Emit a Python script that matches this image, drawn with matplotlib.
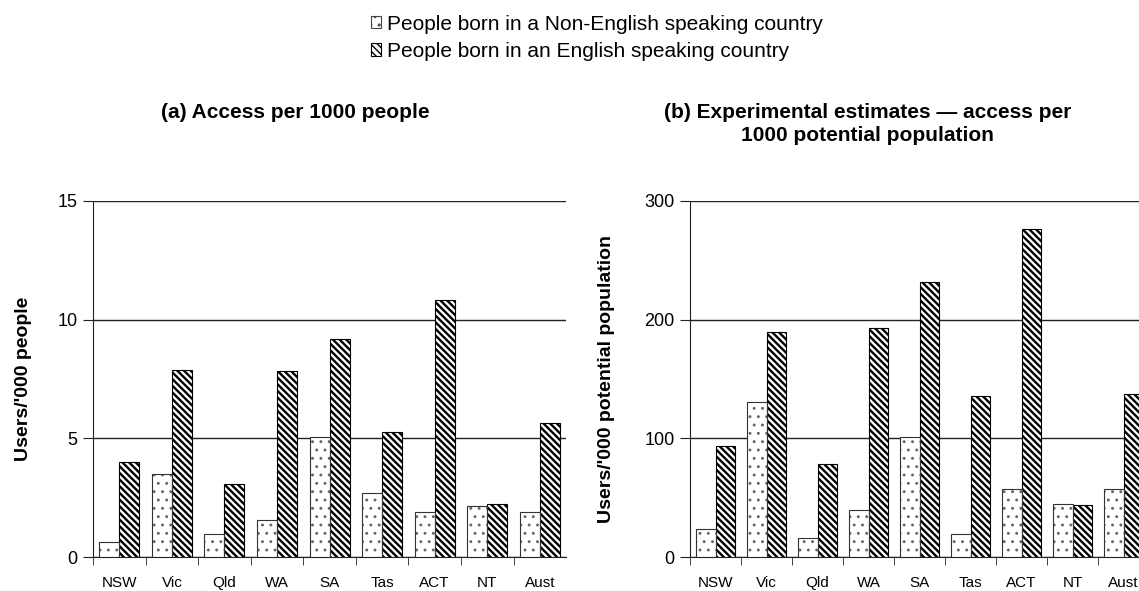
import numpy as np
import matplotlib
matplotlib.use("Agg")
import matplotlib.pyplot as plt
from matplotlib.patches import Patch

plt.rcParams["font.family"] = ["Liberation Sans", "DejaVu Sans"]

states = ["NSW", "Vic", "Qld", "WA", "SA", "Tas", "ACT", "NT", "Aust"]

# (a) access per 1000 people
a_non_english = [0.62, 3.48, 0.96, 1.55, 5.06, 2.68, 1.88, 2.14, 1.88]
a_english = [3.99, 7.87, 3.06, 7.83, 9.17, 5.25, 10.82, 2.22, 5.63]

# (b) access per 1000 potential population
b_non_english = [23.9, 130.3, 16.3, 40.0, 100.8, 19.7, 57.7, 45.0, 56.9]
b_english = [93.2, 189.4, 78.0, 192.8, 231.6, 135.4, 276.1, 44.2, 137.1]

label_ne = "People born in a Non-English speaking country"
label_en = "People born in an English speaking country"

DOT_COLOR = "#666666"
DOTS = ".."
STRIPES = "\\\\\\\\\\"


def set_hlw(artists, lw):
    for a in artists:
        if hasattr(a, "set_hatch_linewidth"):
            a.set_hatch_linewidth(lw)


def draw_panel(ax, ne, en, ymax, ystep, ylabel, label_x):
    x = np.arange(len(states))
    w = 0.38
    # dotted bars: grey dots, black outline drawn on top
    with plt.rc_context({"hatch.linewidth": 0.9}):
        dots = ax.bar(x - w / 2, ne, w, color="white", edgecolor=DOT_COLOR,
                      hatch=DOTS, linewidth=0, zorder=3)
    set_hlw(dots, 0.9)
    ax.bar(x - w / 2, ne, w, fill=False, edgecolor="#333333", linewidth=0.8, zorder=4)
    with plt.rc_context({"hatch.linewidth": 1.7}):
        stripes = ax.bar(x + w / 2, en, w, color="white", edgecolor="black",
                         hatch=STRIPES, linewidth=0.8, zorder=3)
    set_hlw(stripes, 1.7)

    ax.set_xlim(-0.5, len(states) - 0.5)
    ax.set_ylim(0, ymax)
    ax.set_yticks(np.arange(0, ymax + 1e-9, ystep))
    ax.yaxis.grid(True, color="#222222", linewidth=1.0, zorder=0)
    ax.set_axisbelow(True)

    ax.set_xticks(x)
    ax.set_xticklabels(states, fontsize=11)
    ax.set_xticks(np.arange(-0.5, len(states) - 0.5, 1.0), minor=True)
    ax.tick_params(axis="x", which="major", length=0, pad=14)
    ax.tick_params(axis="x", which="minor", length=6, direction="out", color="#222222")
    ax.tick_params(axis="y", length=7, direction="out", labelsize=13, color="#222222", pad=4)

    for s in ["top", "right"]:
        ax.spines[s].set_visible(False)
    ax.spines["left"].set_color("#222222")
    ax.spines["bottom"].set_color("#222222")

    ax.set_ylabel(ylabel, fontsize=14, fontweight="bold")
    ax.yaxis.set_label_coords(label_x, 0.5)


fig = plt.figure(figsize=(11.39, 5.91), dpi=100)
ax1 = fig.add_axes([0.0817, 0.0575, 0.4153, 0.6024])
ax2 = fig.add_axes([0.6058, 0.0575, 0.4030, 0.6024])

draw_panel(ax1, a_non_english, a_english, 15, 5, "Users/'000 people", -0.129)
draw_panel(ax2, b_non_english, b_english, 300, 100,
           "Users/'000 potential population", -0.163)

fig.text(0.259, 0.825, "(a) Access per 1000 people",
         ha="center", va="top", fontsize=15, fontweight="bold")
fig.text(0.762, 0.825, "(b) Experimental estimates \u2014 access per\n1000 potential population",
         ha="center", va="top", fontsize=15, fontweight="bold", linespacing=1.25)

handles = [
    Patch(facecolor="white", edgecolor="#444444", hatch=DOTS, linewidth=0.8, label=label_ne),
    Patch(facecolor="white", edgecolor="black", hatch=STRIPES, linewidth=0.8, label=label_en),
]
fig.legend(handles=handles, loc="upper center", bbox_to_anchor=(0.524, 1.0),
           frameon=False, fontsize=15, handlelength=0.5, handleheight=0.55,
           handletextpad=0.3, labelspacing=0.4, borderaxespad=0.3)

fig.savefig("out.png", dpi=100)
